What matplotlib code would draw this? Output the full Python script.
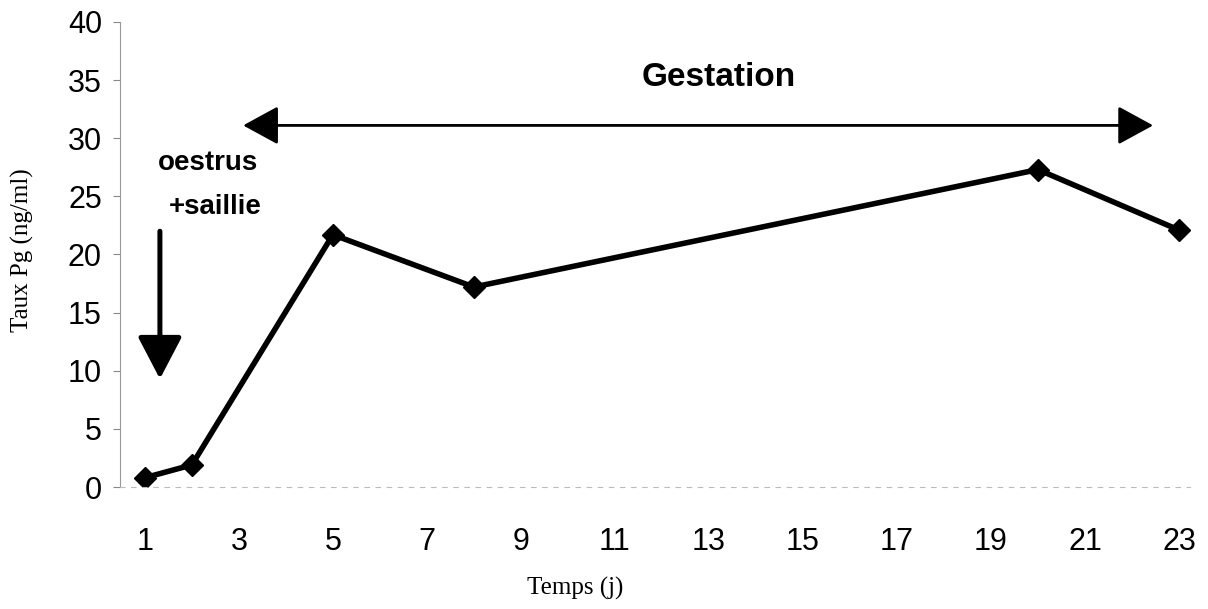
import matplotlib
matplotlib.use("Agg")
import matplotlib.pyplot as plt

# data
jours = [1, 2, 5, 8, 20, 23]
taux_pg = [0.8, 1.9, 21.7, 17.2, 27.3, 22.1]
x_ticks = list(range(1, 24, 2))
y_ticks = list(range(0, 41, 5))

fig = plt.figure(figsize=(12.08, 6.09), dpi=100)
ax = fig.add_axes([0.0993, 0.2003, 0.886, 0.7637])

ax.plot(jours, taux_pg, color="black", linewidth=4, marker="D",
        markersize=11, markerfacecolor="black", markeredgecolor="black")

ax.set_xlim(0.47, 23.24)
ax.set_ylim(0, 40)
ax.set_xticks(x_ticks)
ax.set_yticks(y_ticks)
ax.tick_params(axis="x", length=0, pad=29, labelsize=22)
ax.tick_params(axis="y", length=5, width=0.8, color="#888888", pad=8, labelsize=22)
for lab in ax.get_xticklabels() + ax.get_yticklabels():
    lab.set_fontfamily("Liberation Sans")

for s in ["top", "right"]:
    ax.spines[s].set_visible(False)
ax.spines["left"].set_color("#999999")
ax.spines["left"].set_linewidth(0.8)
ax.spines["bottom"].set_color("#bbbbbb")
ax.spines["bottom"].set_linewidth(0.8)
ax.spines["bottom"].set_linestyle((0, (4, 6)))

ax.set_xlabel("Temps (j)", fontfamily="Liberation Serif", fontsize=18)
ax.xaxis.set_label_coords(0.425, -0.193)
ax.set_ylabel("Taux Pg (ng/ml)", fontfamily="Liberation Serif", fontsize=18)
ax.yaxis.set_label_coords(-0.080, 0.51)

# gestation double arrow
ax.annotate("", xy=(22.45, 31.1), xytext=(3.09, 31.1),
            arrowprops=dict(arrowstyle="<|-|>,head_length=1.1,head_width=0.6",
                            mutation_scale=20, color="black", lw=2,
                            shrinkA=0, shrinkB=0))
ax.text(13.2, 35.2, "Gestation", ha="center", va="center", fontsize=24,
        fontweight="bold", fontfamily="Liberation Sans")

# oestrus arrow
ax.annotate("", xy=(1.32, 9.3), xytext=(1.32, 22.0),
            arrowprops=dict(arrowstyle="-|>,head_length=1.3,head_width=0.68",
                            mutation_scale=20, color="black", lw=3.6,
                            shrinkA=0, shrinkB=0))
ax.text(2.35, 27.9, "oestrus", ha="center", va="center", fontsize=20,
        fontweight="bold", fontfamily="Liberation Sans")
ax.text(2.5, 24.1, "+saillie", ha="center", va="center", fontsize=20,
        fontweight="bold", fontfamily="Liberation Sans")

fig.savefig("out.png", dpi=100)
